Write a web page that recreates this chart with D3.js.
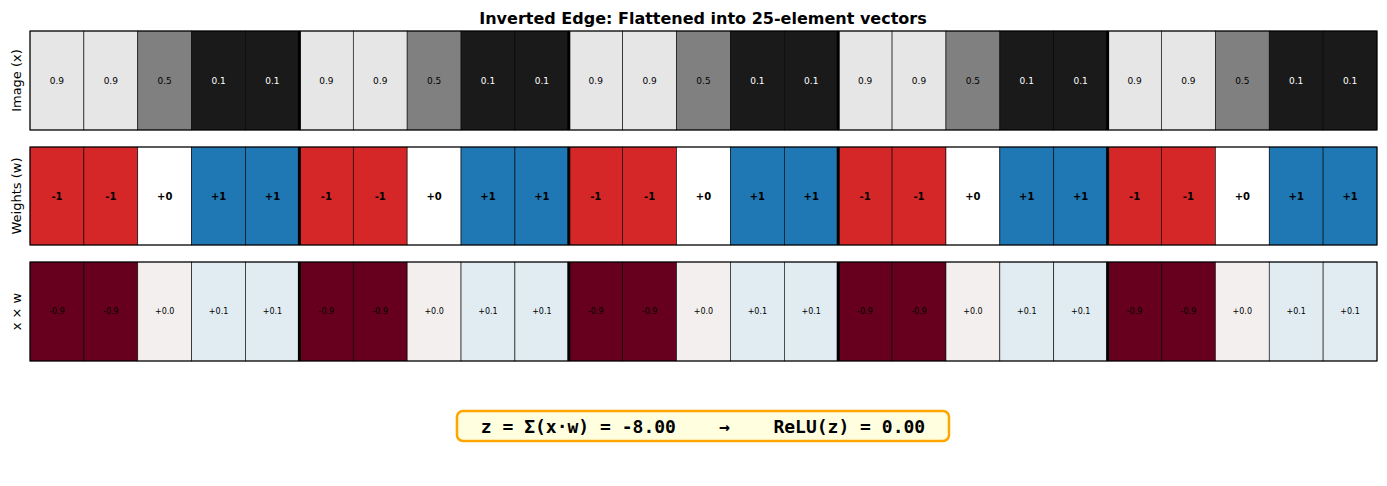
<!DOCTYPE html>
<html><head><meta charset="utf-8">
<script src="https://cdn.jsdelivr.net/npm/d3@7"></script>
<style>body{margin:0;background:#fff;font-family:"DejaVu Sans",sans-serif}</style>
</head><body><div id="chart"></div>
<script>
// Data
var pattern = [0.9, 0.9, 0.5, 0.1, 0.1];
var weightPattern = [-1, -1, 0, 1, 1];
var imageValues = [].concat(pattern, pattern, pattern, pattern, pattern);
var weightValues = [].concat(weightPattern, weightPattern, weightPattern, weightPattern, weightPattern);
var productValues = imageValues.map(function(v, i){ return v * weightValues[i]; });
var rowLabels = ['Image (x)', 'Weights (w)', 'x × w'];

var W = 1387, H = 486;
var svg = d3.select('#chart').append('svg').attr('width', W).attr('height', H);

var x = d3.scaleBand().domain(d3.range(25)).range([30, 1377]);
var rows = [{y: 31, h: 99}, {y: 147, h: 98}, {y: 262, h: 99}];

svg.append('text').attr('x', 703).attr('y', 24).attr('text-anchor', 'middle')
  .attr('font-size', 16).attr('font-weight', 'bold').text('Inverted Edge: Flattened into 25-element vectors');

var prodColor = function(v){ return d3.interpolateRdBu((v + 0.9) / 1.8); };

var rowDefs = [
  {vals: imageValues, fill: function(v){ var g = Math.round(v * 255); return d3.rgb(g, g, g); },
   text: function(v){ return v.toFixed(1); }, tcol: function(v){ return v < 0.5 ? '#fff' : '#000'; }, fs: 9, fw: 'normal'},
  {vals: weightValues, fill: function(v){ return v < 0 ? '#d62728' : v > 0 ? '#1f77b4' : '#ffffff'; },
   text: function(v){ return (v < 0 ? '-' : '+') + Math.abs(v); }, tcol: function(){ return '#000'; }, fs: 10, fw: 'bold'},
  {vals: productValues, fill: prodColor,
   text: function(v){ return (v < 0 ? '-' : '+') + Math.abs(v).toFixed(1); }, tcol: function(){ return '#000'; }, fs: 8, fw: 'normal'}
];

rowDefs.forEach(function(def, r){
  var g = svg.append('g');
  var row = rows[r];
  g.selectAll('rect').data(def.vals).enter().append('rect')
    .attr('x', function(d, i){ return x(i); }).attr('y', row.y)
    .attr('width', x.bandwidth()).attr('height', row.h)
    .attr('fill', def.fill).attr('stroke', '#000').attr('stroke-width', 0.6);
  g.selectAll('text').data(def.vals).enter().append('text')
    .attr('x', function(d, i){ return x(i) + x.bandwidth() / 2; })
    .attr('y', row.y + row.h / 2 + def.fs * 0.35)
    .attr('text-anchor', 'middle').attr('font-size', def.fs).attr('font-weight', def.fw)
    .attr('fill', def.tcol).text(def.text);
  // group separators
  g.selectAll('line').data([5, 10, 15, 20]).enter().append('line')
    .attr('x1', function(d){ return x(d); }).attr('x2', function(d){ return x(d); })
    .attr('y1', row.y).attr('y2', row.y + row.h)
    .attr('stroke', '#000').attr('stroke-width', 3);
  g.append('rect').attr('x', 30).attr('y', row.y).attr('width', 1347).attr('height', row.h)
    .attr('fill', 'none').attr('stroke', '#000').attr('stroke-width', 1);
  svg.append('text').attr('transform', 'translate(21,' + (row.y + row.h / 2) + ') rotate(-90)')
    .attr('text-anchor', 'middle').attr('font-size', 13).text(rowLabels[r]);
});

var z = d3.sum(productValues);
var relu = Math.max(0, z);
svg.append('rect').attr('x', 457).attr('y', 411).attr('width', 492).attr('height', 30)
  .attr('rx', 6).attr('fill', '#ffffe0').attr('stroke', '#ffa500').attr('stroke-width', 2.5);
svg.append('text').attr('x', 703).attr('y', 433).attr('text-anchor', 'middle')
  .attr('font-family', '"DejaVu Sans Mono",monospace').attr('font-size', 18).attr('font-weight', 'bold')
  .attr('xml:space', 'preserve').style('white-space', 'pre')
  .text('z = Σ(x·w) = ' + z.toFixed(2) + '    →    ReLU(z) = ' + relu.toFixed(2));
</script></body></html>
